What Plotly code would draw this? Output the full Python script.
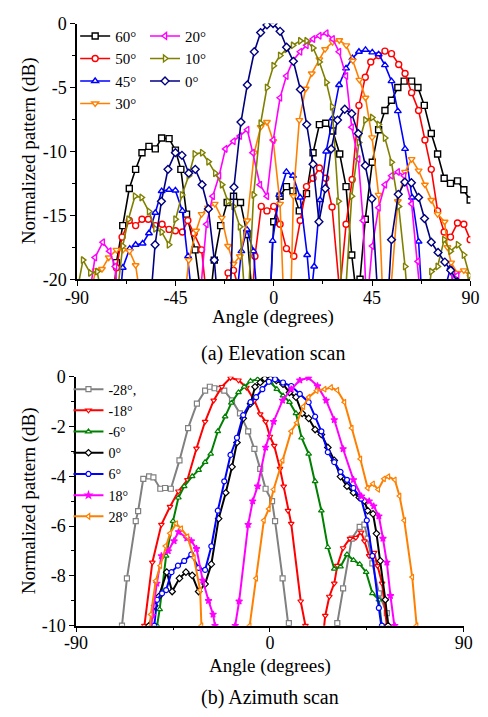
import plotly.graph_objects as go

# ---------------- (a) Elevation scan data ----------------
el_names = ["60°", "50°", "45°", "30°", "20°", "10°", "0°"]

el_ang_60 = [-74, -72, -69.1, -66.1, -63.2, -60.3, -57.1, -54.2, -51.3, -47.9, -45, -42.5, -39.9, -36, -33.5, -30,
             -27.2, -24.3, -21.3, -18.4, -15.2, -12.2, -10, -5, -1.5, 0, 2.9, 5.8, 8.8, 11.7, 15, 18, 20.9, 23.8,
             27, 30.2, 33.1, 35.7, 38, 39.5, 41.9, 45.1, 48, 50.9, 53.9, 56.8, 59.7, 63.1, 66, 68.9, 72.1, 75,
             78, 80.9, 84.1, 87, 89.9]
el_db_60 = [-23, -18.7, -15.8, -12.9, -11.4, -10.1, -9.6, -9.8, -8.95, -9.0, -9.9, -11.4, -14.9, -17.7, -21, -23,
            -18.5, -15.8, -14.0, -13.5, -14.0, -16.5, -21, -25, -21, -15.5, -13.5, -12.75, -13.1, -14.65, -13.3,
            -10.1, -7.9, -7.8, -8.4, -10.2, -12.75, -18.1, -21.5, -20, -15.3, -10.85, -8.3, -6.8, -6.0, -5.0,
            -4.5, -4.5, -5.0, -6.4, -8.6, -10.2, -12.1, -12.5, -12.3, -13.0, -13.8]

el_ang_50 = [-74, -72, -69.4, -66.1, -63.2, -60.3, -57.4, -54.2, -51.1, -47.9, -45, -41.8, -39.3, -36.4, -33,
             -31, -27, -23, -20.9, -18.4, -15.5, -12, -10, -8.6, -5.7, -3.1, 0, 2.9, 5.8, 9.2, 12.1, 15, 18,
             20.9, 23.8, 26.7, 30.2, 33.1, 35.9, 39, 41.9, 44.4, 48, 50.9, 53.9, 57.2, 60.1, 63.1, 66.3, 69.2,
             72.1, 75, 78, 80.9, 84.1, 87, 89.9]
el_db_50 = [-23, -19.1, -16.7, -15.4, -15.8, -15.3, -15.3, -15.8, -15.7, -16.1, -16.2, -16.3, -15.4, -16.4, -17.7,
            -21, -24, -21, -19.5, -19.3, -21, -24, -22, -18.2, -14.3, -14.65, -14.3, -15.7, -17.6, -18.2, -15.4,
            -12.75, -12.1, -11.3, -12.1, -14.35, -21, -15.7, -12.2, -6.4, -4.2, -3.0, -2.5, -2.15, -2.35, -3.2,
            -3.9, -5.4, -6.8, -9.1, -11.4, -14.65, -16.3, -16.7, -15.6, -15.7, -16.9]

el_ang_45 = [-71, -69.1, -65.9, -63.2, -60, -57.1, -54.2, -51.3, -47.9, -45, -41.8, -39.2, -37, -30, -17,
             -14.8, -12.3, -9.3, -7.5, -3, -1.5, -0.5, 2.5, 5.8, 8.8, 12.1, 15.3, 17, 18.5, 21.2, 24, 27, 29.9,
             33.1, 36, 39, 42, 45.1, 48, 50.9, 53.9, 56.8, 60.1, 63.3, 66.3, 68, 75, 78, 80.9, 83, 86]
el_db_45 = [-23, -19.1, -17.6, -17.3, -17.2, -16.4, -14.8, -13.1, -13.0, -13.05, -14.65, -18.2, -22, -25, -21.5,
            -17.8, -16.1, -17.8, -21.5, -24, -21, -17, -13.4, -11.6, -11.9, -13.6, -18.1, -21.5, -19, -13.8,
            -10, -7.4, -4.8, -3.5, -2.7, -2.2, -2.05, -2.25, -2.4, -3.25, -4.5, -6.85, -9.8, -13.6, -17.05,
            -22, -25, -21, -19.1, -21, -25]

el_ang_30 = [-85, -81.5, -78.6, -75.5, -72, -69, -66, -63.2, -61, -50, -41, -38.9, -35.5, -33, -30.1, -27,
             -23.8, -20.9, -18.4, -15.5, -12.1, -8.9, -6, -3.1, -0.2, 2.9, 4.4, 6, 7.9, 9, 11.7, 14.6, 17.4, 20.9,
             23.5, 26.9, 30, 33.2, 36.2, 39.2, 42, 45, 48, 49.8, 51.5, 53.5, 56.8, 60.1, 63.1, 66.3, 69.2, 72.1,
             75, 78.2, 79.5, 81.2, 84, 87, 90]
el_db_30 = [-22, -19.3, -19.2, -18.3, -17.7, -17.7, -17.8, -18.9, -21.5, -25, -22, -18.5, -16.2, -14.9, -14.4,
            -14.1, -15.2, -17.4, -18.8, -18.2, -15.4, -10.1, -8.1, -7.7, -9.2, -14.1, -21, -24, -21, -13.5,
            -7.55, -5.1, -3.9, -2.8, -2.0, -1.45, -1.3, -1.7, -2.9, -4.4, -5.8, -8.9, -13.4, -21, -24, -21,
            -13.9, -11.6, -10.6, -11.5, -12.6, -13.8, -14.9, -15.5, -17.5, -18.7, -19.5, -19.3, -19.8]

el_ang_20 = [-85, -81.8, -78.2, -75.2, -72.6, -71, -50, -34, -30.8, -27.9, -25, -22.1, -18.4, -15.5, -12.1,
             -9.6, -6.3, -3.1, -0.2, 2.9, 5.8, 8.8, 12.1, 15, 18, 20.9, 24.1, 27, 29.9, 33.1, 35.7, 38.7, 40.9,
             42.2, 43.2, 45.1, 48, 50.9, 53.9, 56.8, 59.7, 63.1, 66, 67.5, 75, 80, 82, 84, 86]
el_db_20 = [-22, -18.3, -17.1, -17.8, -19, -22, -25, -22, -15.7, -13.5, -11.9, -9.8, -9.2, -8.8, -8.3, -10.1,
            -12.6, -13.5, -9.1, -5.8, -4.1, -2.9, -2.2, -1.7, -1.2, -0.95, -0.75, -1.2, -2.2, -4.1, -8.1, -10.6,
            -15.4, -21, -21, -17.4, -14.4, -12.6, -11.9, -11.6, -11.9, -14.1, -18.6, -22, -25, -21, -19.6,
            -19.7, -21]

el_ang_10 = [-89.5, -87.3, -84, -80.8, -79, -74, -71.5, -69.1, -66.5, -63.5, -60.5, -57.1, -54.2, -51.3, -48,
             -45, -42, -38.9, -36.2, -32.8, -29.9, -26.8, -23.7, -21, -18.4, -15.5, -13.4, -11.5, -9.2, -6, -3.1,
             -0.1, 2.9, 5.8, 8.8, 12.1, 15, 18, 20.9, 24.1, 26.7, 29.6, 31.1, 32.9, 35.7, 39, 41.9, 45, 48, 50.9,
             53.9, 57.2, 60.1, 61.5, 68, 72.1, 75, 78, 80.9, 84.3, 87, 89.6]
el_db_10 = [-20.5, -18.5, -19.5, -19.4, -21, -25, -21, -17.4, -15.3, -13.5, -13.6, -14.7, -16.05, -16.3, -17.3,
            -15.3, -13.4, -11.9, -10.2, -10.1, -10.8, -11.7, -12.6, -13.9, -14.3, -15.9, -21, -21, -13.4, -7.8,
            -5.0, -3.3, -2.5, -2.0, -1.7, -1.35, -1.35, -1.9, -3.0, -4.6, -6.5, -13.9, -21, -21, -13.5, -9.3,
            -7.55, -7.35, -7.9, -8.95, -10.85, -14.3, -19, -22, -25, -19.4, -19, -16.9, -17.8, -17.3, -18.1,
            -19.7]

el_ang_0 = [-56.5, -54.3, -51.4, -48.4, -45, -42, -38.9, -35.9, -32.8, -29.9, -27.2, -25.5, -22, -19.8, -18.2,
            -15, -12.1, -8.9, -6, -3.1, -0.3, 2.9, 5.9, 9, 12.2, 15.1, 18, 20.7, 23.6, 26.3, 29.2, 32.5, 35.7,
            38.7, 41.9, 44.9, 47.5, 50, 52.5, 53.9, 57, 60, 63, 66.3, 69, 72.1, 75.2, 78.3, 81, 84, 87]
el_db_0 = [-22, -17.3, -13.9, -11.4, -10.1, -10.3, -11.7, -11.4, -12.6, -14.5, -18.5, -22, -25, -21, -12.8, -7.7,
           -4.8, -2.2, -0.7, -0.1, 0, -0.6, -1.85, -2.95, -5.15, -7.9, -11, -15.5, -12.9, -9.8, -7.55, -6.7,
           -7.05, -8.6, -11.1, -13.7, -21, -24, -21, -16.9, -13.35, -12.4, -12.45, -13.6, -15.25, -17.1, -17.9,
           -18.65, -19.3, -20.2, -21]

# ---------------- (b) Azimuth scan data ----------------
az_names = ["-28°,", "-18°", "-6°", "0°", "6°", "18°", "28°"]

az_ang_m28 = [-70, -68.7, -66.4, -62.3, -61.2, -58.8, -56.1, -54.1, -50.9, -48.7, -46, -42, -38, -33.9, -30.1,
              -27.9, -25.7, -23.5, -21.2, -17.6, -13.9, -10.1, -7.2, -4.5, -2, 1, 2.4, 5.9, 8.8, 10, 25, 30,
              31.3, 34, 38, 41.7, 43.9, 45.4, 47.6, 50.6, 54.3, 56]
az_db_m28 = [-10.5, -10, -8.1, -5.8, -5.4, -4.1, -4.0, -4.04, -4.5, -4.47, -4.5, -3.36, -2.06, -1.08, -0.56,
             -0.4, -0.46, -0.5, -0.56, -0.95, -1.47, -2.19, -2.9, -3.7, -4.5, -5.0, -5.8, -8.1, -9.9, -11, -13,
             -11, -9.9, -8.5, -6.5, -6.03, -5.94, -6.5, -7.5, -8.7, -9.5, -10.5]

az_ang_m18 = [-59, -58.3, -54.6, -50.4, -46.4, -42.5, -38.3, -34.1, -30.1, -26.1, -22.3, -18.3, -14.6, -10.9,
              -7.2, -4.5, -2, 0, 2, 4.7, 6.4, 8.4, 9.9, 14.3, 16.5, 18, 24, 25.7, 27.6, 29.9, 31.3, 34, 37.2,
              39.9, 42.4, 43.9, 46.1, 48.4, 50, 52.1, 54.3, 55.5]
az_db_m18 = [-10.5, -10, -7.46, -5.94, -5.22, -4.6, -4.14, -2.88, -1.8, -0.95, -0.4, -0.04, -0.14, -0.43, -0.95,
             -1.5, -1.8, -2.4, -2.77, -3.69, -4.4, -5.38, -5.9, -9.02, -10, -11, -11, -9.6, -8.83, -8.3, -7.59,
             -6.88, -6.5, -6.46, -6.25, -6.6, -7.2, -7.07, -7.6, -8.3, -10, -11]

az_ang_m6 = [-53, -52.4, -51.2, -48.2, -45, -42.5, -39.8, -36.1, -33.1, -30.1, -27.5, -24.2, -20.8, -17.9,
             -14.6, -11.9, -9, -5.7, -2.8, 0.2, 3.2, 6.1, 9.1, 12.1, 14.7, 18, 21, 23.9, 26.9, 29.9, 32.8, 35.8,
             38.8, 41.7, 44.7, 47.6, 50.6, 52.1, 53]
az_db_m6 = [-10.5, -10, -9.35, -7.2, -5.8, -4.86, -4.4, -4.0, -3.75, -3.43, -3.1, -2.19, -1.6, -1.05, -0.63,
            -0.4, -0.17, -0.1, -0.14, -0.22, -0.5, -0.76, -1.02, -1.47, -2.45, -3.1, -4.2, -5.38, -6.85, -7.72,
            -7.63, -7.14, -7.37, -7.53, -7.85, -8.7, -8.96, -10, -10.8]

az_ang_0 = [-57, -56.1, -53.5, -51.6, -47.9, -45.4, -42, -39, -36.1, -33.1, -30.1, -27.2, -23.8, -20.5, -17.6,
            -15.3, -12.4, -9, -6.9, -4.5, -2.4, 0.3, 3, 6.1, 9.1, 12.1, 15, 18, 21, 23.9, 26.9, 29.9, 32.8, 35.8,
            38.8, 41.5, 43.9, 45.4, 47.9, 49.5, 51.3, 53.6, 54.9, 56]
az_db_0 = [-10.5, -10, -9.2, -8.83, -7.85, -8.63, -8.1, -7.85, -7.98, -8.63, -8.33, -7.53, -5.7, -4.66, -3.62,
           -2.64, -1.67, -1.08, -0.4, -0.23, -0.07, -0.08, -0.15, -0.3, -0.63, -0.82, -1.47, -1.67, -2.12, -2.32,
           -2.84, -3.36, -4.01, -4.4, -4.66, -4.85, -4.99, -5.38, -5.51, -6.3, -7.4, -8.96, -10, -10.8]

az_ang_6 = [-54, -53.7, -52.4, -50.1, -48.2, -45.7, -42.7, -39.8, -36.5, -33.1, -30.1, -27.2, -24.2, -21.2,
            -18.3, -15.3, -12.4, -9, -6.4, -3.5, -0.5, 2.4, 6.1, 9.9, 13.9, 18, 21, 23.9, 26.9, 29.9, 32.8, 35.8,
            38.8, 42.4, 45, 47.6, 50.6, 52, 53]
az_db_6 = [-10.5, -10, -8.96, -8.7, -8.57, -7.85, -7.59, -7.4, -7.14, -7.68, -7.76, -6.81, -5.38, -4.2, -3.14,
           -2.45, -1.54, -1.02, -0.82, -0.5, -0.2, -0.1, -0.23, -0.37, -0.69, -1.02, -1.6, -2.19, -3.03, -3.43,
           -3.82, -4.14, -4.47, -4.9, -5.77, -7.2, -9.29, -10, -10.8]

az_ang_18 = [-55.5, -54.6, -52.5, -50.4, -47.2, -44.5, -42.4, -38.6, -36.5, -34.1, -31.2, -28.5, -26.4, -25.5,
             -24, -18, -16.1, -14.3, -10.1, -8, -5.7, -2, 1.7, 5.9, 9.9, 13.9, 18, 22.1, 26.1, 29.9, 34, 38.8,
             42.5, 46.1, 48.2, 50.6, 52.5, 54.3, 56, 58, 59]
az_db_18 = [-10.5, -9.6, -8.3, -7.2, -7.0, -6.6, -6.23, -6.49, -6.6, -6.91, -8.18, -9.0, -9.55, -10, -11, -11,
            -10, -9.02, -5.94, -5.0, -4.4, -2.84, -1.8, -0.95, -0.5, -0.14, -0.04, -0.37, -0.95, -1.73, -2.9,
            -4.14, -4.8, -5.0, -5.2, -5.6, -6.5, -7.46, -8.8, -10, -10.8]

az_ang_28 = [-56, -55.3, -53, -50.9, -48.5, -46.4, -43.5, -41.2, -38.3, -35.3, -32.4, -31.8, -30, -12, -9.4,
             -6.4, -2.8, -0.5, 1.7, 5.9, 9.9, 12.5, 15.5, 18, 21.7, 25.4, 28.4, 31.3, 34.6, 38, 42, 45.4, 47.9,
             50.3, 53, 55, 58, 60.2, 62.4, 66.1, 68.1, 69]
az_db_28 = [-10.5, -9.55, -8.2, -7.59, -6.8, -6.29, -5.9, -6.1, -6.42, -7.27, -8.57, -10, -11, -11, -10, -8.1,
            -5.77, -5.31, -4.53, -3.36, -2.19, -1.85, -1.2, -0.82, -0.56, -0.5, -0.43, -0.54, -1.02, -2.06, -3.3,
            -4.47, -4.3, -4.53, -4.1, -4.01, -4.14, -4.79, -5.77, -8.05, -10, -10.8]

# tick labels
el_xticks = [-90, -45, 0, 45, 90]
el_yticks = [0, -5, -10, -15, -20]
az_xticks = [-90, 0, 90]
az_yticks = [0, -2, -4, -6, -8, -10]

# ---------------- styling ----------------
FONT = "Liberation Serif"
W, H = 488, 717

el_series = [
    (el_names[0], el_ang_60, el_db_60, "#000000", "square", "legend"),
    (el_names[1], el_ang_50, el_db_50, "#ff0000", "circle", "legend"),
    (el_names[2], el_ang_45, el_db_45, "#0000ff", "triangle-up", "legend"),
    (el_names[3], el_ang_30, el_db_30, "#ff8000", "triangle-down", "legend"),
    (el_names[4], el_ang_20, el_db_20, "#ff00ff", "triangle-left", "legend2"),
    (el_names[5], el_ang_10, el_db_10, "#808000", "triangle-right", "legend2"),
    (el_names[6], el_ang_0, el_db_0, "#000080", "diamond", "legend2"),
]
az_series = [
    (az_names[0], az_ang_m28, az_db_m28, "#808080", "square"),
    (az_names[1], az_ang_m18, az_db_m18, "#ff0000", "triangle-down"),
    (az_names[2], az_ang_m6, az_db_m6, "#008000", "triangle-up"),
    (az_names[3], az_ang_0, az_db_0, "#000000", "diamond"),
    (az_names[4], az_ang_6, az_db_6, "#0000ff", "circle"),
    (az_names[5], az_ang_18, az_db_18, "#ff00ff", "star"),
    (az_names[6], az_ang_28, az_db_28, "#ff8000", "triangle-left"),
]

fig = go.Figure()
for name, xs, ys, col, sym, lg in el_series:
    fig.add_trace(go.Scatter(
        x=xs, y=ys, name=name, mode="lines+markers", xaxis="x", yaxis="y", legend=lg,
        line=dict(color=col, width=1.6),
        marker=dict(symbol=sym, size=6, color="white", line=dict(color=col, width=1.4)),
    ))
for name, xs, ys, col, sym in az_series:
    fig.add_trace(go.Scatter(
        x=xs, y=ys, name=name, mode="lines+markers", xaxis="x2", yaxis="y2", legend="legend3",
        line=dict(color=col, width=2),
        marker=dict(symbol=sym, size=5, color="white" if sym != "star" else col,
                    line=dict(color=col, width=1.2)),
    ))

x1 = [68 / W, 479 / W]
y1 = [1 - 277 / H, 1 - 14 / H]
x2 = [67 / W, 472 / W]
y2 = [1 - 633.3 / H, 1 - 377.3 / H]

tickfont = dict(family=FONT, size=18, color="black")
base = dict(showgrid=False, zeroline=False, showline=True, linecolor="black", linewidth=1.5,
            tickcolor="black", tickwidth=1.2, tickfont=tickfont)

fig.update_layout(
    width=W, height=H, margin=dict(l=0, r=0, t=0, b=0),
    paper_bgcolor="white", plot_bgcolor="white",
    font=dict(family=FONT, size=15, color="black"),
    xaxis=dict(base, domain=x1, anchor="y", range=[-90, 90], tickvals=el_xticks,
               ticktext=[str(v) for v in el_xticks], ticks="outside", ticklen=5, ticklabelstandoff=-4,
               minor=dict(tickvals=[-67.5, -22.5, 22.5, 67.5], ticks="outside", ticklen=3, tickcolor="black")),
    yaxis=dict(base, domain=y1, anchor="x", range=[-20, 0], tickvals=el_yticks,
               ticktext=[str(v) for v in el_yticks], ticks="outside", ticklen=5,
               minor=dict(tickvals=[-2.5, -7.5, -12.5, -17.5], ticks="outside", ticklen=3, tickcolor="black")),
    xaxis3=dict(base, overlaying="x", anchor="y", side="top", range=[-90, 90], tickvals=el_xticks,
                ticks="inside", ticklen=5, showticklabels=False,
                minor=dict(tickvals=[-67.5, -22.5, 22.5, 67.5], ticks="inside", ticklen=3, tickcolor="black")),
    yaxis3=dict(base, overlaying="y", anchor="x", side="right", range=[-20, 0], tickvals=el_yticks,
                ticks="inside", ticklen=5, showticklabels=False,
                minor=dict(tickvals=[-2.5, -7.5, -12.5, -17.5], ticks="inside", ticklen=3, tickcolor="black")),
    xaxis2=dict(base, domain=x2, anchor="y2", range=[-90, 90], tickvals=az_xticks,
                ticktext=[str(v) for v in az_xticks], ticks="outside", ticklen=5, ticklabelstandoff=-5,
                minor=dict(tickvals=[-45, 45], ticks="outside", ticklen=3, tickcolor="black")),
    yaxis2=dict(base, domain=y2, anchor="x2", range=[-10, 0], tickvals=az_yticks,
                ticktext=[str(v) for v in az_yticks], ticks="outside", ticklen=5,
                minor=dict(tickvals=[-1, -3, -5, -7, -9], ticks="outside", ticklen=3, tickcolor="black")),
    xaxis4=dict(base, overlaying="x2", anchor="y2", side="top", range=[-90, 90], tickvals=az_xticks,
                ticks="inside", ticklen=5, showticklabels=False,
                minor=dict(tickvals=[-45, 45], ticks="inside", ticklen=3, tickcolor="black")),
    yaxis4=dict(base, overlaying="y2", anchor="x2", side="right", range=[-10, 0], tickvals=az_yticks,
                ticks="inside", ticklen=5, showticklabels=False,
                minor=dict(tickvals=[-1, -3, -5, -7, -9], ticks="inside", ticklen=3, tickcolor="black")),
    legend=dict(x=66 / W, y=1 - 10 / H, xanchor="left", yanchor="top", bgcolor="rgba(0,0,0,0)",
                font=dict(family=FONT, size=15), tracegroupgap=0, itemwidth=30),
    legend2=dict(x=139 / W, y=1 - 10 / H, xanchor="left", yanchor="top", bgcolor="rgba(0,0,0,0)",
                 font=dict(family=FONT, size=15), tracegroupgap=0, itemwidth=30),
    legend3=dict(x=59 / W, y=1 - 374 / H, xanchor="left", yanchor="top", bgcolor="rgba(0,0,0,0)",
                 font=dict(family=FONT, size=14), tracegroupgap=0, itemwidth=30),
)

ann = [
    dict(text="Normalized pattern (dB)", x=18 / W, y=1 - 145 / H, textangle=-90, size=19),
    dict(text="Angle (degrees)", x=273 / W, y=1 - 316 / H, textangle=0, size=19),
    dict(text="(a) Elevation scan", x=273 / W, y=1 - 353 / H, textangle=0, size=20),
    dict(text="Normalized pattern (dB)", x=18 / W, y=1 - 505 / H, textangle=-90, size=19),
    dict(text="Angle (degrees)", x=270 / W, y=1 - 675 / H, textangle=0, size=19),
    dict(text="(b) Azimuth scan", x=270 / W, y=1 - 707 / H, textangle=0, size=20),
]
for a in ann:
    fig.add_annotation(text=a["text"], x=a["x"], y=a["y"], xref="paper", yref="paper",
                       xanchor="center", yanchor="middle", showarrow=False, textangle=a["textangle"],
                       font=dict(family=FONT, size=a["size"], color="black"))

fig.write_html("out.html")
